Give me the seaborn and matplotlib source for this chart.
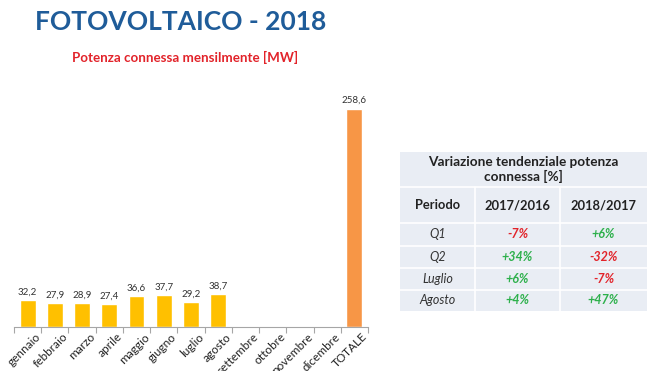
import matplotlib
matplotlib.use('Agg')
import matplotlib.pyplot as plt
import matplotlib.transforms as mtransforms
import seaborn as sns
import pandas as pd
from matplotlib.patches import Rectangle

sns.set_theme(style='white')
plt.rcParams['font.family'] = ['Lato', 'DejaVu Sans']

# Dati
mesi = ['gennaio', 'febbraio', 'marzo', 'aprile', 'maggio', 'giugno', 'luglio',
        'agosto', 'settembre', 'ottobre', 'novembre', 'dicembre', 'TOTALE']
potenza = [32.2, 27.9, 28.9, 27.4, 36.6, 37.7, 29.2, 38.7, None, None, None, None, 258.6]

periodi = ['Q1', 'Q2', 'Luglio', 'Agosto']
var_2017_2016 = ['-7%', '+34%', '+6%', '+4%']
var_2018_2017 = ['+6%', '-32%', '-7%', '+47%']

df = pd.DataFrame({'mese': mesi, 'valore': potenza})
colori = ['#FFC000'] * 12 + ['#F79646']

W, H = 650, 371
fig = plt.figure(figsize=(6.5, 3.71), dpi=100)

# Grafico a barre
ax = fig.add_axes([14 / W, (H - 327) / H, (368 - 14) / W, (327 - 82) / H])
sns.barplot(data=df, x='mese', y='valore', hue='mese', palette=colori,
            legend=False, width=0.58, saturation=1, ax=ax)
ax.set_ylim(0, 290)
ax.set_xlim(-0.5, len(mesi) - 0.5)
ax.set_xlabel('')
ax.set_ylabel('')
ax.set_yticks([])
for s in ['top', 'right', 'left']:
    ax.spines[s].set_visible(False)
ax.spines['bottom'].set_color('#A6A6A6')
ax.spines['bottom'].set_linewidth(0.8)

for i, v in enumerate(potenza):
    if v is not None:
        ax.text(i, v + 4, f'{v:.1f}'.replace('.', ','), ha='center', va='bottom',
                fontsize=7, color='#333333')

ax.set_xticks(range(len(mesi)))
ax.set_xticklabels(mesi, rotation=45, ha='right', rotation_mode='anchor',
                   fontsize=8.5, color='#222222')
ax.tick_params(axis='x', length=0, pad=3)
offset = mtransforms.ScaledTranslation(7 / 100, 0, fig.dpi_scale_trans)
for lab in ax.get_xticklabels():
    lab.set_transform(lab.get_transform() + offset)
# tacche tra le categorie
ax.set_xticks([i + 0.5 for i in range(-1, len(mesi))], minor=True)
ax.tick_params(axis='x', which='minor', length=4, color='#A6A6A6', width=0.8, bottom=True)

# Titoli
fig.text(35 / W, 1 - 22 / H, 'FOTOVOLTAICO - 2018', fontsize=19, fontweight='bold',
         color='#1F5C99', va='center', ha='left')
fig.text(185 / W, 1 - 57 / H, 'Potenza connessa mensilmente [MW]', fontsize=9.6,
         fontweight='bold', color='#E2232A', va='center', ha='center')

# Tabella
tx = fig.add_axes([0, 0, 1, 1])
tx.set_xlim(0, W)
tx.set_ylim(H, 0)
tx.axis('off')
bg = '#E9EDF4'
left, right = 400, 647
cols = [400, 475, 560, 647]
rows = [152, 187, 223, 246, 268, 290, 311]
tx.add_patch(Rectangle((left, rows[0]), right - left, rows[-1] - rows[0],
                       facecolor=bg, edgecolor='none'))
for y in rows[1:-1]:
    tx.plot([left, right], [y, y], color='white', lw=1.2)
for x in cols[1:-1]:
    tx.plot([x, x], [rows[1], rows[-1]], color='white', lw=1.2)

tx.text((left + right) / 2, (rows[0] + rows[1]) / 2,
        'Variazione tendenziale potenza\nconnessa [%]', ha='center', va='center',
        fontsize=9.8, fontweight='bold', color='#222222', linespacing=1.2)
centers = [(cols[i] + cols[i + 1]) / 2 for i in range(3)]
for c, t in zip(centers, ['Periodo', '2017/2016', '2018/2017']):
    tx.text(c, (rows[1] + rows[2]) / 2, t, ha='center', va='center', fontsize=9.3,
            fontweight='bold', color='#222222')


def col_val(s):
    return '#E2232A' if s.startswith('-') else '#2DB04B'


for r, (p, a, b) in enumerate(zip(periodi, var_2017_2016, var_2018_2017)):
    yc = (rows[r + 2] + rows[r + 3]) / 2
    tx.text(centers[0], yc, p, ha='center', va='center', fontsize=9,
            fontstyle='italic', color='#333333')
    tx.text(centers[1], yc, a, ha='center', va='center', fontsize=9,
            fontstyle='italic', fontweight='bold', color=col_val(a))
    tx.text(centers[2], yc, b, ha='center', va='center', fontsize=9,
            fontstyle='italic', fontweight='bold', color=col_val(b))

fig.savefig('out.png', dpi=100)
